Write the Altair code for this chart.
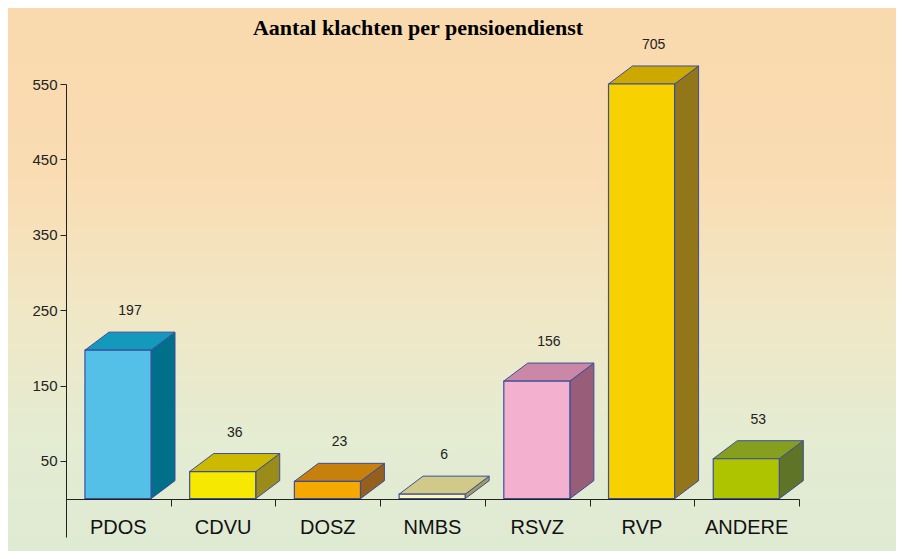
import altair as alt
import pandas as pd

# ---- data ----
categories = ["PDOS", "CDVU", "DOSZ", "NMBS", "RSVZ", "RVP", "ANDERE"]
values = [197, 36, 23, 6, 156, 705, 53]
front_colors = ["#54C0E7", "#F7E800", "#F4A800", "#FFF5B5", "#F3B1CF", "#F7D100", "#AFC400"]
top_colors = ["#1399BB", "#CDB900", "#C8800C", "#D1C987", "#CB88A6", "#CCA800", "#869F1F"]
side_colors = ["#00708A", "#9A8B1A", "#955F1E", "#A39B58", "#985E77", "#93761A", "#5F7426"]
y_ticks = [50, 150, 250, 350, 450, 550]
title_text = "Aantal klachten per pensioendienst"

# ---- layout constants (styles) ----
W, H = 733, 453
PAD_L, PAD_T, PAD_R, PAD_B = 58, 76, 97, 14
Y_MIN, Y_MAX = -50.8, 550
F0, F1 = 0.181, 0.812       # front face position within band
DX = 0.229                  # depth in x units
DY = 23.9                   # depth in y units
EDGE = "#3A4E9E"

front_rows, side_rows, top_rows, label_rows, cat_rows = [], [], [], [], []
for i, (c, v) in enumerate(zip(categories, values)):
    t = min(v, Y_MAX)
    x0, x1 = i + F0, i + F1
    front_rows.append(dict(cat=c, x0=x0, x1=x1, y0=0, y1=t, fill=front_colors[i]))
    side_rows.append(dict(cat=c, x=x1, y=0, y2=t, fill=side_colors[i]))
    side_rows.append(dict(cat=c, x=x1 + DX, y=DY, y2=t + DY, fill=side_colors[i]))
    top_rows.append(dict(cat=c, y=t, x=x0, x2=x1, fill=top_colors[i]))
    top_rows.append(dict(cat=c, y=t + DY, x=x0 + DX, x2=x1 + DX, fill=top_colors[i]))
    label_rows.append(dict(cat=c, x=(x0 + x1) / 2 + DX / 2, y=t + DY, text=str(v)))
    cat_rows.append(dict(cat=c, x=i + 0.5, y=-39))

front_df = pd.DataFrame(front_rows)
side_df = pd.DataFrame(side_rows)
top_df = pd.DataFrame(top_rows)
label_df = pd.DataFrame(label_rows)
cat_df = pd.DataFrame(cat_rows)

xscale = alt.Scale(domain=[0, len(categories)], nice=False, zero=False)
yscale = alt.Scale(domain=[Y_MIN, Y_MAX], nice=False, zero=False)

x_axis = alt.Axis(values=list(range(len(categories) + 1)), labels=False, tickSize=7,
                  grid=False, title=None, offset=-38, domainColor="#222",
                  tickColor="#222", domainWidth=1, tickWidth=1, zindex=1)
y_axis = alt.Axis(values=y_ticks, grid=False, title=None, tickSize=6, labelPadding=3,
                  labelFont="Liberation Sans", labelFontSize=15, labelColor="#222",
                  domainColor="#222", tickColor="#222", domainWidth=1, tickWidth=1,
                  zindex=1)

bg = alt.Chart(pd.DataFrame({"a": [0]})).mark_rect(
    fill=alt.LinearGradient(
        gradient="linear",
        stops=[
            alt.GradientStop(offset=0.0, color="#F9D9AE"),
            alt.GradientStop(offset=0.3, color="#FADCB2"),
            alt.GradientStop(offset=0.55, color="#F0E7C5"),
            alt.GradientStop(offset=0.8, color="#E4ECD2"),
            alt.GradientStop(offset=1.0, color="#DFEAD3"),
        ],
        x1=0, x2=0, y1=0, y2=1,
    ),
).encode(
    x=alt.value(-PAD_L), x2=alt.value(W + PAD_R),
    y=alt.value(-PAD_T), y2=alt.value(H + PAD_B),
)

side = alt.Chart(side_df).mark_area(stroke=EDGE, strokeWidth=1, orient="vertical").encode(
    x=alt.X("x:Q", scale=xscale, axis=x_axis),
    y=alt.Y("y:Q", scale=yscale, axis=y_axis),
    y2="y2:Q",
    detail="cat:N",
    fill=alt.Fill("fill:N", scale=None),
)

top = alt.Chart(top_df).mark_area(stroke=EDGE, strokeWidth=1, orient="horizontal").encode(
    y=alt.Y("y:Q", scale=yscale),
    x=alt.X("x:Q", scale=xscale),
    x2="x2:Q",
    detail="cat:N",
    fill=alt.Fill("fill:N", scale=None),
)

front = alt.Chart(front_df).mark_rect(stroke=EDGE, strokeWidth=1.2).encode(
    x=alt.X("x0:Q", scale=xscale),
    x2="x1:Q",
    y=alt.Y("y0:Q", scale=yscale),
    y2="y1:Q",
    fill=alt.Fill("fill:N", scale=None),
)

labels = alt.Chart(label_df).mark_text(
    font="Liberation Sans", fontSize=14, color="#222", baseline="middle", dy=-21
).encode(
    x=alt.X("x:Q", scale=xscale),
    y=alt.Y("y:Q", scale=yscale),
    text="text:N",
)

cat_labels = alt.Chart(cat_df).mark_text(
    font="Liberation Sans", fontSize=20, color="#111", baseline="middle"
).encode(
    x=alt.X("x:Q", scale=xscale),
    y=alt.Y("y:Q", scale=yscale),
    text="cat:N",
)

title = alt.Chart(pd.DataFrame({"t": [title_text]})).mark_text(
    font="Liberation Serif", fontSize=22, fontWeight="bold", color="#000",
    baseline="alphabetic", align="center"
).encode(
    x=alt.value(352), y=alt.value(-49), text="t:N"
)

chart = alt.layer(bg, side, top, front, labels, cat_labels, title).properties(
    width=W, height=H,
    autosize=alt.AutoSizeParams(type="none"),
    padding={"left": PAD_L, "top": PAD_T, "right": PAD_R, "bottom": PAD_B},
    background="white",
).configure_view(stroke=None)

chart.save("out.html", embed_options={"renderer": "svg", "actions": False})
